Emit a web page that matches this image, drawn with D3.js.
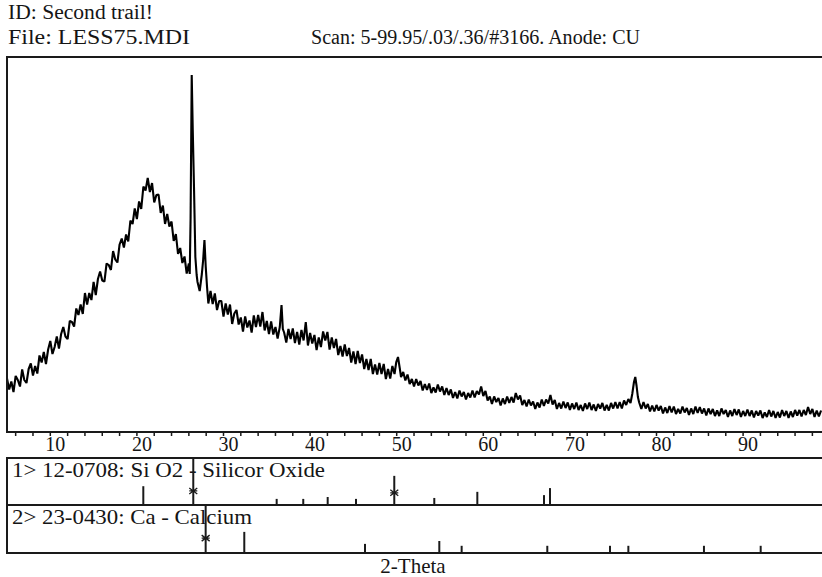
<!DOCTYPE html>
<html>
<head>
<meta charset="utf-8">
<script src="https://cdn.jsdelivr.net/npm/d3@7"></script>
<style>
  body { margin: 0; background: #fff; }
  svg { display: block; }
  text { font-family: "Liberation Serif", "Times New Roman", serif; fill: #151515; }
</style>
</head>
<body>
<svg id="chart" width="822" height="577"></svg>
<script>
// header lines
let headerId = "ID: Second trail!",
    headerFile = "File: LESS75.MDI",
    headerScan = "Scan: 5-99.95/.03/.36/#3166. Anode: CU";

let xTicks = [10, 20, 30, 40, 50, 60, 70, 80, 90];

// measured pattern, [2-theta, counts]
let pattern = [
  [5.00,107],[5.25,85],[5.50,101],[5.75,80],[6.00,112],[6.25,104],[6.50,91],[6.75,125],
  [7.00,104],[7.25,98],[7.50,126],[7.75,137],[8.00,113],[8.25,132],[8.50,117],[8.75,153],
  [9.00,139],[9.25,160],[9.50,136],[9.75,165],[10.00,182],[10.25,156],[10.50,170],[10.75,191],
  [11.00,167],[11.25,196],[11.50,210],[11.75,191],[12.00,186],[12.25,222],[12.50,220],[12.75,211],
  [13.00,247],[13.25,234],[13.50,255],[13.75,236],[14.00,278],[14.25,255],[14.50,278],[14.75,264],
  [15.00,300],[15.25,274],[15.50,306],[15.75,321],[16.00,303],[16.25,301],[16.50,337],[16.75,334],
  [17.00,324],[17.25,362],[17.50,345],[17.75,339],[18.00,375],[18.25,387],[18.50,369],[18.75,395],
  [19.00,381],[19.25,423],[19.50,416],[19.75,447],[20.00,426],[20.25,461],[20.50,446],[20.75,491],
  [21.00,483],[21.25,508],[21.50,480],[21.75,498],[22.00,459],[22.25,474],[22.50,475],[22.75,438],
  [23.00,453],[23.25,416],[23.50,436],[23.75,411],[24.00,421],[24.25,382],[24.50,396],[24.75,356],
  [25.00,368],[25.25,338],[25.50,351],[25.75,317],[26.00,337],[26.10,316],[26.20,428],[26.33,714],
  [26.45,604],[26.60,484],[26.75,350],[26.90,314],[27.00,300],[27.25,282],[27.50,316],[27.65,344],
  [27.80,384],[27.95,330],[28.10,290],[28.25,257],[28.50,282],[28.75,256],[29.00,277],[29.25,244],
  [29.50,262],[29.75,262],[30.00,231],[30.25,257],[30.50,235],[30.75,255],[31.00,216],[31.25,237],
  [31.50,244],[31.75,215],[32.00,229],[32.25,201],[32.50,231],[32.75,209],[33.00,223],[33.25,199],
  [33.50,233],[33.75,210],[34.00,234],[34.25,211],[34.50,240],[34.75,203],[35.00,222],[35.25,196],
  [35.50,221],[35.75,195],[36.00,210],[36.25,187],[36.50,210],[36.70,254],[36.85,206],[37.00,199],
  [37.25,179],[37.50,206],[37.75,186],[38.00,207],[38.25,178],[38.50,200],[38.75,175],[39.00,204],
  [39.25,183],[39.50,220],[39.75,173],[40.00,198],[40.25,177],[40.50,194],[40.75,164],[41.00,189],
  [41.25,170],[41.50,201],[41.75,183],[42.00,200],[42.25,165],[42.50,189],[42.75,168],[43.00,186],
  [43.25,154],[43.50,172],[43.75,151],[44.00,175],[44.25,152],[44.50,168],[44.75,139],[45.00,161],
  [45.25,136],[45.50,162],[45.75,138],[46.00,155],[46.25,126],[46.50,146],[46.75,124],[47.00,146],
  [47.25,116],[47.50,135],[47.75,115],[48.00,138],[48.25,116],[48.50,136],[48.75,106],[49.00,126],
  [49.25,107],[49.50,132],[49.75,116],[49.95,140],[50.15,150],[50.35,128],[50.50,110],[50.75,120],
  [51.00,103],[51.25,115],[51.50,96],[51.75,106],[52.00,91],[52.25,106],[52.50,93],[52.75,102],
  [53.00,83],[53.25,96],[53.50,84],[53.75,97],[54.00,78],[54.25,89],[54.50,79],[54.75,95],
  [55.00,81],[55.25,91],[55.50,74],[55.75,88],[56.00,74],[56.25,85],[56.50,68],[56.75,80],
  [57.00,67],[57.25,83],[57.50,71],[57.75,80],[58.00,65],[58.25,78],[58.50,69],[58.75,83],
  [59.00,69],[59.25,82],[59.50,75],[59.75,91],[60.00,72],[60.25,82],[60.50,63],[60.75,71],
  [61.00,56],[61.25,71],[61.50,60],[61.75,68],[62.00,53],[62.25,67],[62.50,56],[62.75,71],
  [63.00,58],[63.25,70],[63.50,59],[63.75,78],[64.00,65],[64.25,73],[64.50,54],[64.75,64],
  [65.00,51],[65.25,65],[65.50,53],[65.75,61],[66.00,46],[66.25,59],[66.50,49],[66.75,65],
  [67.00,52],[67.25,65],[67.50,57],[67.75,74],[68.00,55],[68.25,64],[68.50,46],[68.75,58],
  [69.00,47],[69.25,61],[69.50,48],[69.75,59],[70.00,44],[70.25,57],[70.50,46],[70.75,59],
  [71.00,44],[71.25,54],[71.50,42],[71.75,57],[72.00,46],[72.25,59],[72.50,44],[72.75,55],
  [73.00,42],[73.25,56],[73.50,47],[73.75,58],[74.00,43],[74.25,54],[74.50,43],[74.75,58],
  [75.00,47],[75.25,60],[75.50,47],[75.75,60],[76.00,47],[76.25,63],[76.50,54],[76.75,66],
  [77.00,58],[77.20,76],[77.40,100],[77.55,110],[77.70,92],[77.85,70],[78.00,59],[78.25,46],
  [78.50,60],[78.75,47],[79.00,56],[79.25,41],[79.50,53],[79.75,41],[80.00,54],[80.25,43],
  [80.50,52],[80.75,37],[81.00,49],[81.25,38],[81.50,52],[81.75,39],[82.00,51],[82.25,36],
  [82.50,46],[82.75,37],[83.00,51],[83.25,39],[83.50,48],[83.75,34],[84.00,47],[84.25,36],
  [84.50,51],[84.75,38],[85.00,50],[85.25,37],[85.50,47],[85.75,33],[86.00,47],[86.25,36],
  [86.50,46],[86.75,32],[87.00,43],[87.25,32],[87.50,47],[87.75,36],[88.00,44],[88.25,30],
  [88.50,43],[88.75,32],[89.00,46],[89.25,34],[89.50,45],[89.75,30],[90.00,42],[90.25,32],
  [90.50,45],[90.75,32],[91.00,43],[91.25,29],[91.50,42],[91.75,33],[92.00,43],[92.25,28],
  [92.50,39],[92.75,30],[93.00,44],[93.25,31],[93.50,42],[93.75,28],[94.00,40],[94.25,29],
  [94.50,44],[94.75,32],[95.00,42],[95.25,28],[95.50,41],[95.75,30],[96.00,44],[96.25,33],
  [96.50,44],[96.75,31],[97.00,44],[97.25,34],[97.50,50],[97.75,36],[98.00,46],[98.25,30],
  [98.50,43],[98.75,31],[99.00,43]
];

// reference cards: [2-theta, relative intensity %]
let card1Label = "1> 12-0708: Si O2 - Silicor Oxide";
let card1Lines = [[20.74,40],[26.51,100],[36.14,13],[39.21,13],[42.03,17],[45.30,13],
                  [49.72,62],[54.34,15],[59.31,28],[67.01,21],[67.70,36]];
let card1Marks = [[26.51,30],[49.72,26]];

let card2Label = "2> 23-0430: Ca - Calcium";
let card2Lines = [[27.94,100],[32.40,44],[46.34,19],[54.92,25],[57.50,15],[67.39,15],
                  [74.63,15],[76.75,15],[85.48,15],[92.03,15]];
let card2Marks = [[27.94,31]];

let xLabel = "2-Theta";

let svg = d3.select('#chart');
let W = 822,
    plotLeft = 7,
    plotTop = 57,
    plotBottom = 432;

let x = d3.scaleLinear()
    .domain([5, 99.95])
    .range([plotLeft, plotLeft + 94.95 * 8.66]);

let y = d3.scaleLinear()
    .domain([0, 750])
    .range([plotBottom, plotTop]);

let ink = '#1a1a1a';

// header
function header(txt, x0, y0, len) {
    svg.append('text').attr('x', x0).attr('y', y0)
        .attr('font-size', 20)
        .attr('textLength', len)
        .attr('lengthAdjust', 'spacingAndGlyphs')
        .text(txt);
}
header(headerId, 8, 19, 145);
header(headerFile, 8, 44, 182);
header(headerScan, 311, 44, 329);

// pattern
svg.append('clipPath').attr('id', 'clip')
    .append('rect')
    .attr('x', plotLeft).attr('y', plotTop)
    .attr('width', W - plotLeft).attr('height', plotBottom - plotTop);

let line = d3.line()
    .x(function(d) { return x(d[0]); })
    .y(function(d) { return y(d[1]); });

svg.append('path')
    .datum(pattern)
    .attr('clip-path', 'url(#clip)')
    .attr('fill', 'none')
    .attr('stroke', '#000')
    .attr('stroke-width', 2.1)
    .attr('stroke-linejoin', 'bevel')
    .attr('d', line);

// frame of main plot
svg.append('path')
    .attr('d', 'M' + W + ',' + plotTop + 'H' + plotLeft + 'V' + plotBottom + 'H' + W)
    .attr('fill', 'none')
    .attr('stroke', ink)
    .attr('stroke-width', 2);

// axis
let minor = d3.range(6, 99, 2);
svg.append('g').selectAll('line')
    .data(minor).enter()
    .append('line')
    .attr('x1', function(d) { return x(d); })
    .attr('x2', function(d) { return x(d); })
    .attr('y1', plotBottom)
    .attr('y2', plotBottom + 4)
    .attr('stroke', ink)
    .attr('stroke-width', 1.5);

svg.append('g').selectAll('text')
    .data(xTicks).enter()
    .append('text')
    .attr('x', function(d) { return x(d) + 5; })
    .attr('y', 451)
    .attr('text-anchor', 'middle')
    .attr('font-size', 20)
    .text(function(d) { return d; });

// reference card panels
function card(y0, y1, label, labelLen, lines, marks) {
    let g = svg.append('g');
    let h = d3.scaleLinear().domain([0, 100]).range([y1, y0]);

    g.append('text').attr('x', 12).attr('y', y0 + 19)
        .attr('font-size', 21)
        .attr('textLength', labelLen)
        .attr('lengthAdjust', 'spacingAndGlyphs')
        .text(label);

    g.selectAll('line.stick')
        .data(lines).enter()
        .append('line')
        .attr('class', 'stick')
        .attr('x1', function(d) { return x(d[0]); })
        .attr('x2', function(d) { return x(d[0]); })
        .attr('y1', y1)
        .attr('y2', function(d) { return h(d[1]); })
        .attr('stroke', ink)
        .attr('stroke-width', 2);

    g.selectAll('path.mark')
        .data(marks).enter()
        .append('path')
        .attr('class', 'mark')
        .attr('d', function(d) {
            let cx = x(d[0]), cy = h(d[1]);
            return 'M' + (cx - 4) + ',' + (cy - 3) + 'L' + (cx + 4) + ',' + (cy + 3) +
                'M' + (cx - 4) + ',' + (cy + 3) + 'L' + (cx + 4) + ',' + (cy - 3) +
                'M' + (cx - 4) + ',' + cy + 'L' + (cx + 4) + ',' + cy;
        })
        .attr('stroke', ink)
        .attr('stroke-width', 1.3);

    g.append('path')
        .attr('d', 'M' + W + ',' + y0 + 'H' + plotLeft + 'V' + y1 + 'H' + W)
        .attr('fill', 'none')
        .attr('stroke', ink)
        .attr('stroke-width', 2);
}

card(458, 505, card1Label, 313, card1Lines, card1Marks);
card(505, 553, card2Label, 240, card2Lines, card2Marks);

svg.append('text')
    .attr('x', 413).attr('y', 573)
    .attr('text-anchor', 'middle')
    .attr('font-size', 21)
    .text(xLabel);
</script>
</body>
</html>
